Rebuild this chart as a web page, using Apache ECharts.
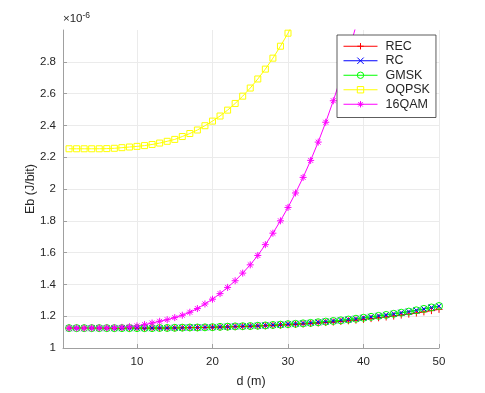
<!DOCTYPE html>
<html>
<head>
<meta charset="utf-8">
<script src="https://cdn.jsdelivr.net/npm/echarts@6/dist/echarts.min.js"></script>
<style>
  html, body { margin: 0; padding: 0; background: #fff; }
  #chart { width: 485px; height: 393px; }
</style>
</head>
<body>
<div id="chart"></div>
<script>
// distance d (m), 1..50
var dist = [];
for (var i = 1; i <= 50; i++) dist.push(i);

// Eb values in units of 1e-6 J/bit
var rec = [1.125, 1.125, 1.125, 1.125, 1.125, 1.125, 1.125, 1.125, 1.125, 1.125,
  1.125, 1.125, 1.125, 1.125, 1.126, 1.127, 1.128, 1.128, 1.129, 1.130,
  1.131, 1.132, 1.134, 1.135, 1.136, 1.138, 1.140, 1.142, 1.144, 1.146,
  1.148, 1.151, 1.154, 1.157, 1.160, 1.163, 1.167, 1.171, 1.175, 1.180,
  1.185, 1.190, 1.195, 1.201, 1.207, 1.213, 1.220, 1.227, 1.235, 1.243];
var rc = [1.125, 1.125, 1.125, 1.125, 1.125, 1.125, 1.125, 1.125, 1.125, 1.125,
  1.125, 1.125, 1.126, 1.126, 1.127, 1.128, 1.129, 1.129, 1.130, 1.131,
  1.133, 1.134, 1.136, 1.137, 1.138, 1.140, 1.142, 1.145, 1.147, 1.150,
  1.152, 1.155, 1.158, 1.162, 1.166, 1.170, 1.174, 1.179, 1.184, 1.190,
  1.196, 1.202, 1.208, 1.215, 1.222, 1.229, 1.237, 1.246, 1.255, 1.263];
var gmsk = [1.125, 1.125, 1.125, 1.125, 1.125, 1.125, 1.125, 1.125, 1.125, 1.125,
  1.125, 1.125, 1.126, 1.126, 1.127, 1.128, 1.129, 1.129, 1.130, 1.131,
  1.133, 1.134, 1.136, 1.137, 1.138, 1.140, 1.142, 1.145, 1.147, 1.150,
  1.152, 1.155, 1.158, 1.162, 1.166, 1.170, 1.174, 1.179, 1.184, 1.190,
  1.196, 1.202, 1.208, 1.215, 1.222, 1.229, 1.237, 1.246, 1.255, 1.264];
// beyond these points the curves leave the axes (clipped)
var oqpsk = [2.253, 2.253, 2.253, 2.253, 2.253, 2.254, 2.256, 2.260, 2.264, 2.268,
  2.273, 2.280, 2.289, 2.300, 2.312, 2.330, 2.349, 2.371, 2.398, 2.427,
  2.459, 2.496, 2.538, 2.584, 2.635, 2.692, 2.754, 2.823, 2.898, 2.980,
  3.070];
var qam16 = [1.125, 1.125, 1.125, 1.126, 1.126, 1.127, 1.128, 1.130, 1.134, 1.139,
  1.147, 1.157, 1.168, 1.178, 1.191, 1.206, 1.225, 1.248, 1.277, 1.307,
  1.342, 1.381, 1.423, 1.471, 1.523, 1.582, 1.650, 1.722, 1.800, 1.884,
  1.975, 2.073, 2.180, 2.295, 2.420, 2.555, 2.700, 2.856, 3.025];

var xTicks = [10, 20, 30, 40, 50];

var names = ['REC', 'RC', 'GMSK', 'OQPSK', '16QAM'];
var colors = ['#ff0000', '#0000ff', '#00ff00', '#ffff00', '#ff00ff'];
var symbols = [
  'path://M0,5L10,5M5,0L5,10',
  'path://M0,0L10,10M10,0L0,10',
  'circle',
  'rect',
  'path://M0,5L10,5M5,0L5,10M1.5,1.5L8.5,8.5M8.5,1.5L1.5,8.5'
];
var sizes = [7, 6, 7, 6, 7];
var values = [rec, rc, gmsk, oqpsk, qam16];

var font = "'Liberation Sans', Arial, Helvetica, sans-serif";

var series = names.map(function (name, k) {
  return {
    name: name,
    type: 'line',
    data: values[k].map(function (v, j) { return [dist[j], v]; }),
    symbol: symbols[k],
    symbolSize: sizes[k],
    showAllSymbol: true,
    clip: true,
    color: colors[k],
    lineStyle: { color: colors[k], width: 1 },
    itemStyle: { color: 'transparent', borderColor: colors[k], borderWidth: 1 },
    emphasis: { disabled: true }
  };
});

var chart = echarts.init(document.getElementById('chart'));
chart.setOption({
  animation: false,
  textStyle: { fontFamily: font },
  grid: { left: 63, right: 46, top: 30, bottom: 45, containLabel: false },
  xAxis: {
    type: 'value',
    min: 0.2,
    max: 50,
    name: 'd (m)',
    nameLocation: 'middle',
    nameGap: 27,
    nameMoveOverlap: false,
    nameTextStyle: { color: '#262626', fontSize: 12.5, fontFamily: font },
    axisLine: { lineStyle: { color: '#a0a0a0', width: 1 } },
    axisTick: { inside: true, length: 4, customValues: xTicks, lineStyle: { color: '#a0a0a0' } },
    axisLabel: { customValues: xTicks, color: '#262626', fontSize: 11.5, margin: 8 },
    splitLine: { show: true, lineStyle: { color: '#ebebeb', width: 1 } }
  },
  yAxis: {
    type: 'value',
    min: 1,
    max: 3,
    interval: 0.2,
    name: 'Eb (J/bit)',
    nameLocation: 'middle',
    nameGap: 26,
    nameMoveOverlap: false,
    nameTextStyle: { color: '#262626', fontSize: 12.5, fontFamily: font },
    axisLine: { show: true, lineStyle: { color: '#a0a0a0', width: 1 } },
    axisTick: { show: true, inside: true, length: 4, lineStyle: { color: '#a0a0a0' } },
    axisLabel: {
      color: '#262626', fontSize: 11.5, margin: 7, showMaxLabel: false,
      formatter: function (v) { return String(+v.toFixed(1)); }
    },
    splitLine: { show: true, showMaxLine: false, lineStyle: { color: '#ebebeb', width: 1 } }
  },
  legend: {
    orient: 'vertical',
    left: 337,
    top: 35,
    itemWidth: 34,
    itemHeight: 8,
    itemGap: 0,
    padding: [4, 6, 6, 6],
    backgroundColor: '#ffffff',
    borderColor: '#333333',
    borderWidth: 0.8,
    borderRadius: 0,
    lineStyle: { width: 1 },
    itemStyle: { borderWidth: 1 },
    textStyle: { color: '#262626', fontSize: 12.5, lineHeight: 14.5, fontFamily: font, padding: [0, 0, 0, 3] },
    data: names
  },
  graphic: [{
    type: 'text',
    left: 63,
    top: 11,
    style: {
      text: '×10{sup|-6}',
      fill: '#262626',
      font: '11.5px ' + font,
      rich: { sup: { fontSize: 8.5, verticalAlign: 'top', padding: [0, 0, 6, 0] } }
    }
  }],
  series: series
});
</script>
</body>
</html>
